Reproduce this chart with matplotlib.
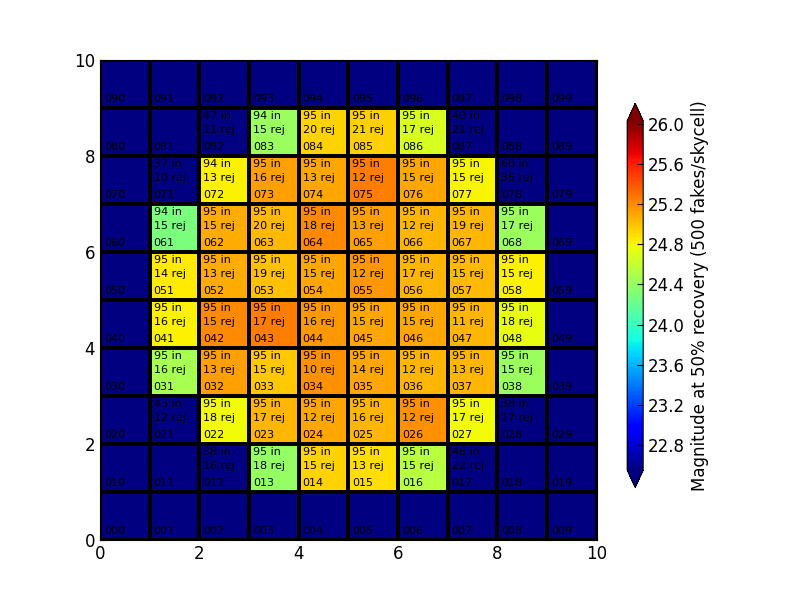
import numpy as np
import matplotlib
matplotlib.use('Agg')
from matplotlib import pyplot as plt

# magnitude at 50% recovery per skycell, rows are y = 0..9, columns x = 0..9
# 0 means no fit (drawn below the colour range)
mag = [
    [0, 0, 0, 0, 0, 0, 0, 0, 0, 0],
    [0, 0, 0, 24.39, 24.94, 24.89, 24.54, 0, 0, 0],
    [0, 0, 24.78, 25.04, 25.10, 25.04, 25.18, 24.78, 0, 0],
    [0, 24.48, 25.12, 24.98, 25.18, 25.10, 25.04, 25.04, 24.42, 0],
    [0, 24.83, 25.21, 25.25, 25.16, 25.10, 25.10, 25.04, 24.75, 0],
    [0, 24.85, 25.08, 25.01, 25.10, 25.16, 25.04, 25.03, 24.83, 0],
    [0, 24.28, 25.08, 25.03, 25.21, 25.12, 25.04, 25.04, 24.42, 0],
    [0, 0, 24.83, 25.12, 25.10, 25.25, 25.10, 24.82, 0, 0],
    [0, 0, 0, 24.42, 24.94, 24.95, 24.68, 0, 0, 0],
    [0, 0, 0, 0, 0, 0, 0, 0, 0, 0],
]

# fakes recovered ("in") and rejected per skycell, 0 = no text
n_in = [
    [0, 0, 0, 0, 0, 0, 0, 0, 0, 0],
    [0, 0, 38, 95, 95, 95, 95, 46, 0, 0],
    [0, 43, 95, 95, 95, 95, 95, 95, 38, 0],
    [0, 95, 95, 95, 95, 95, 95, 95, 95, 0],
    [0, 95, 95, 95, 95, 95, 95, 95, 95, 0],
    [0, 95, 95, 95, 95, 95, 95, 95, 95, 0],
    [0, 94, 95, 95, 95, 95, 95, 95, 95, 0],
    [0, 37, 94, 95, 95, 95, 95, 95, 60, 0],
    [0, 0, 47, 94, 95, 95, 95, 49, 0, 0],
    [0, 0, 0, 0, 0, 0, 0, 0, 0, 0],
]
n_rej = [
    [0, 0, 0, 0, 0, 0, 0, 0, 0, 0],
    [0, 0, 16, 18, 15, 13, 15, 22, 0, 0],
    [0, 12, 18, 17, 12, 16, 12, 17, 17, 0],
    [0, 16, 13, 15, 10, 14, 12, 13, 15, 0],
    [0, 16, 15, 17, 16, 15, 15, 11, 18, 0],
    [0, 14, 13, 19, 15, 12, 17, 15, 15, 0],
    [0, 15, 15, 20, 18, 13, 12, 19, 17, 0],
    [0, 10, 13, 16, 13, 12, 15, 15, 35, 0],
    [0, 0, 11, 15, 20, 21, 17, 21, 0, 0],
    [0, 0, 0, 0, 0, 0, 0, 0, 0, 0],
]

vmin, vmax = 22.55, 26.03
cbar_ticks = [22.8, 23.2, 23.6, 24.0, 24.4, 24.8, 25.2, 25.6, 26.0]

plt.rcParams['font.size'] = 12
fig = plt.figure(figsize=(8, 6), dpi=100)
ax = fig.add_axes([0.125, 0.1, 0.621, 0.8])

data = np.array(mag)
mesh = ax.pcolormesh(np.arange(11), np.arange(11), data, cmap='jet',
                     vmin=vmin, vmax=vmax, edgecolors='k', linewidth=1.6)

for j in range(10):
    for i in range(10):
        ax.text(i + 0.08, j + 0.19, '0%d%d' % (j, i), fontsize=8,
                va='center', ha='left')
        if n_in[j][i] > 0:
            ax.text(i + 0.08, j + 0.83, '%d in' % n_in[j][i], fontsize=8,
                    va='center', ha='left')
            ax.text(i + 0.08, j + 0.54, '%d rej' % n_rej[j][i], fontsize=8,
                    va='center', ha='left')

ax.set_xlim(0, 10)
ax.set_ylim(0, 10)
ax.set_xticks(range(0, 11, 2))
ax.set_yticks(range(0, 11, 2))
ax.tick_params(direction='in', top=True, right=True, labelsize=12)

# cax covers the bar plus both extension triangles
cax = fig.add_axes([0.784, 0.1875, 0.02, 0.64])
cb = fig.colorbar(mesh, cax=cax, extend='both', ticks=cbar_ticks)
cb.ax.set_yticklabels(['%.1f' % t for t in cbar_ticks])
cb.ax.tick_params(direction='in', labelsize=12, length=4)
cb.set_label('Magnitude at 50% recovery (500 fakes/skycell)', fontsize=12)

fig.savefig('out.png', dpi=100, facecolor='white')
